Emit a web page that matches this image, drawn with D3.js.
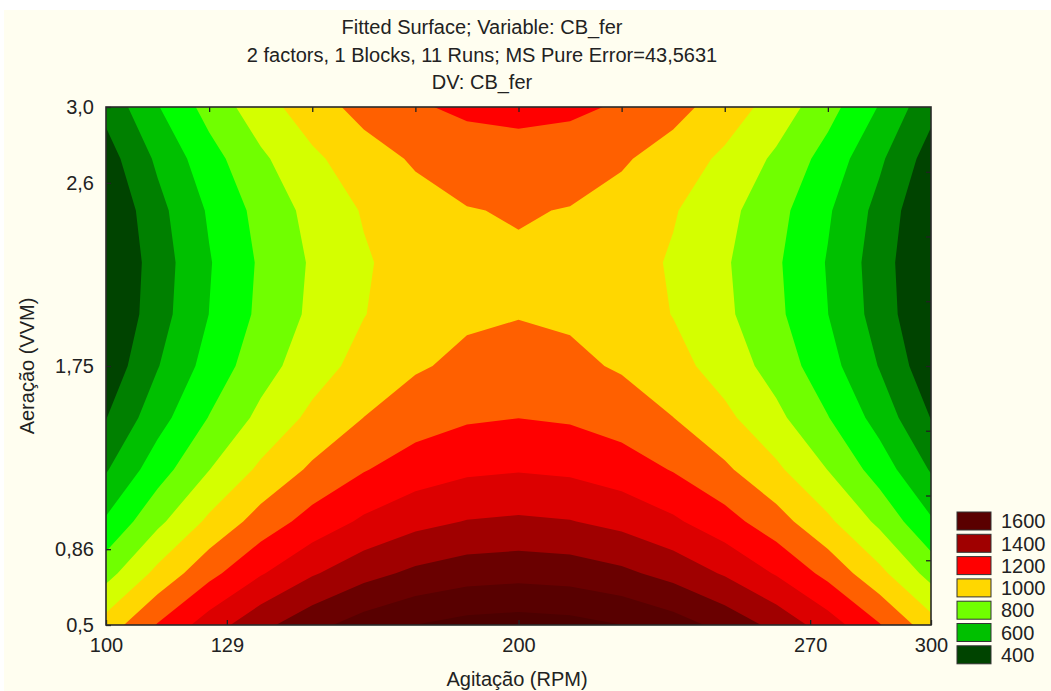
<!DOCTYPE html>
<html>
<head>
<meta charset="utf-8">
<script src="https://cdn.jsdelivr.net/npm/d3@7"></script>
<style>
  body { margin: 0; background: #fff; }
  text { font-family: "Liberation Sans", Arial, sans-serif; fill: #222; }
</style>
</head>
<body>
<div id="chart"></div>
<script>
// Fitted surface CB_fer = f(Agitação, Aeração), contour plot

const width = 1051,
    height = 691,
    margin = ({ top: 107, right: 120, bottom: 66, left: 106 });

const agitacao = [100, 112.5, 125, 137.5, 150, 162.5, 175, 187.5, 200,
                  212.5, 225, 237.5, 250, 262.5, 275, 287.5, 300];
const aeracao = [0.5, 0.75, 1.0, 1.25, 1.5, 1.75, 2.0, 2.25, 2.5, 2.75, 3.0];

// CB_fer values, one row per aeração level (bottom row first)
const cbFer = [
  [943, 1107, 1250, 1371, 1469, 1546, 1601, 1634, 1645, 1634, 1601, 1546, 1469, 1371, 1250, 1107, 943],
  [763, 927, 1070, 1191, 1289, 1366, 1421, 1454, 1465, 1454, 1421, 1366, 1289, 1191, 1070, 927, 763],
  [613, 777, 920, 1041, 1139, 1216, 1271, 1304, 1315, 1304, 1271, 1216, 1139, 1041, 920, 777, 613],
  [491, 655, 798, 919, 1017, 1094, 1149, 1182, 1193, 1182, 1149, 1094, 1017, 919, 798, 655, 491],
  [397, 561, 704, 825, 923, 1001, 1055, 1088, 1099, 1088, 1055, 1001, 923, 825, 704, 561, 397],
  [331, 495, 638, 759, 857, 934, 989, 1022, 1033, 1022, 989, 934, 857, 759, 638, 495, 331],
  [294, 458, 601, 722, 820, 897, 952, 985, 996, 985, 952, 897, 820, 722, 601, 458, 294],
  [286, 450, 593, 714, 812, 889, 944, 977, 988, 977, 944, 889, 812, 714, 593, 450, 286],
  [305, 469, 612, 733, 831, 908, 963, 996, 1007, 996, 963, 908, 831, 733, 612, 469, 305],
  [354, 518, 661, 782, 880, 957, 1012, 1045, 1056, 1045, 1012, 957, 880, 782, 661, 518, 354],
  [430, 594, 737, 858, 956, 1033, 1088, 1121, 1132, 1121, 1088, 1033, 956, 858, 737, 594, 430]
];

// contour levels and band colours (first colour = below first level)
const levels = [400, 500, 600, 700, 800, 900, 1000, 1100, 1200, 1300, 1400, 1500, 1600];
const bandColors = ["#004400", "#008000", "#00c000", "#00ff00", "#70ff00", "#d4ff00", "#ffd700",
                    "#ff6000", "#ff0000", "#dc0000", "#a00000", "#6a0000", "#580000", "#4c0000"];

// legend entries
const legendValues = [1600, 1400, 1200, 1000, 800, 600, 400];
const legendColors = ["#5a0000", "#a00000", "#ff0000", "#ffd700", "#70ff00", "#00c000", "#004400"];

// axis ticks (coded design points) and their labels
const xTicks = [100, 129.3, 200, 270.7, 300];
const xTickLabels = ["100", "129", "200", "270", "300"];
const yTicks = [0.5, 0.866, 1.75, 2.634, 3.0];
const yTickLabels = ["0,5", "0,86", "1,75", "2,6", "3,0"];
const topTicks = [125, 150, 175, 200, 225, 250, 275];
const rightTicks = [0.8125, 1.125, 1.4375, 1.75, 2.0625, 2.375, 2.6875];

const titleLines = ["Fitted Surface; Variable: CB_fer",
                    "2 factors, 1 Blocks, 11 Runs; MS Pure Error=43,5631",
                    "DV: CB_fer"];

const svg = d3.select("#chart")
  .append("svg")
  .attr("width", width)
  .attr("height", height);

// cream panel
svg.append("rect")
  .attr("x", 4).attr("y", 10)
  .attr("width", width - 4).attr("height", height - 10)
  .attr("fill", "#fffef0");

const x = d3.scaleLinear()
  .domain([100, 300])
  .range([margin.left, 931]);

const y = d3.scaleLinear()
  .domain([0.5, 3.0])
  .range([height - margin.bottom, margin.top]);

svg.append("clipPath")
  .attr("id", "plot-clip")
  .append("rect")
  .attr("x", x(100)).attr("y", y(3.0))
  .attr("width", x(300) - x(100)).attr("height", y(0.5) - y(3.0));

// contours
const nx = agitacao.length, ny = aeracao.length;
const stepX = agitacao[1] - agitacao[0], stepY = aeracao[1] - aeracao[0];

const contours = d3.contours()
  .size([nx, ny])
  .thresholds(levels)(cbFer.flat());

// grid coordinate -> pixel (value i sits at i + 0.5)
const proj = d3.geoTransform({
  point: function(px, py) {
    this.stream.point(x(agitacao[0] + (px - 0.5) * stepX), y(aeracao[0] + (py - 0.5) * stepY));
  }
});
const path = d3.geoPath(proj);

const plot = svg.append("g").attr("clip-path", "url(#plot-clip)");

plot.append("rect")
  .attr("x", x(100)).attr("y", y(3.0))
  .attr("width", x(300) - x(100)).attr("height", y(0.5) - y(3.0))
  .attr("fill", bandColors[0]);

plot.selectAll("path")
  .data(contours)
  .join("path")
  .attr("d", path)
  .attr("fill", (d, i) => bandColors[i + 1]);

// axes, ticks pointing inwards
svg.append("g")
  .attr("transform", `translate(0,${y(0.5)})`)
  .call(d3.axisBottom(x).tickValues(xTicks).tickFormat((d, i) => xTickLabels[i])
    .tickSizeInner(-5).tickSizeOuter(0).tickPadding(13));

svg.append("g")
  .attr("transform", `translate(${x(100)},0)`)
  .call(d3.axisLeft(y).tickValues(yTicks).tickFormat((d, i) => yTickLabels[i])
    .tickSizeInner(-5).tickSizeOuter(0).tickPadding(12));

svg.append("g")
  .attr("transform", `translate(0,${y(3.0)})`)
  .call(d3.axisTop(x).tickValues(topTicks).tickFormat("").tickSizeInner(-5).tickSizeOuter(0));

svg.append("g")
  .attr("transform", `translate(${x(300)},0)`)
  .call(d3.axisRight(y).tickValues(rightTicks).tickFormat("").tickSizeInner(-5).tickSizeOuter(0));

svg.selectAll(".domain").remove();
svg.selectAll(".tick line").attr("stroke", "#222").attr("stroke-width", 1.3);
svg.selectAll(".tick text")
  .attr("font-size", 20)
  .attr("font-family", "Liberation Sans, Arial, sans-serif")
  .attr("fill", "#222");

// frame
svg.append("rect")
  .attr("x", x(100)).attr("y", y(3.0))
  .attr("width", x(300) - x(100)).attr("height", y(0.5) - y(3.0))
  .attr("fill", "none")
  .attr("stroke", "#2a2a2a")
  .attr("stroke-width", 1.6);

// titles
svg.append("g")
  .selectAll("text")
  .data(titleLines)
  .join("text")
  .attr("x", 482)
  .attr("y", (d, i) => 34 + i * 27.5)
  .attr("text-anchor", "middle")
  .attr("font-size", 20)
  .text(d => d);

svg.append("text")
  .attr("x", 517)
  .attr("y", 686)
  .attr("text-anchor", "middle")
  .attr("font-size", 20)
  .text("Agitação (RPM)");

svg.append("text")
  .attr("transform", `translate(34,${y(1.75)}) rotate(-90)`)
  .attr("text-anchor", "middle")
  .attr("font-size", 20)
  .text("Aeração (VVM)");

// legend
const legend = svg.append("g")
  .attr("transform", "translate(957,512)");

const item = legend.selectAll("g")
  .data(legendValues)
  .join("g")
  .attr("transform", (d, i) => `translate(0,${i * 22.3})`);

item.append("rect")
  .attr("width", 34)
  .attr("height", 18)
  .attr("fill", (d, i) => legendColors[i])
  .attr("stroke", "#333")
  .attr("stroke-width", 1);

item.append("text")
  .attr("x", 44)
  .attr("y", 9)
  .attr("dy", "0.36em")
  .attr("font-size", 20)
  .text(d => d);
</script>
</body>
</html>
